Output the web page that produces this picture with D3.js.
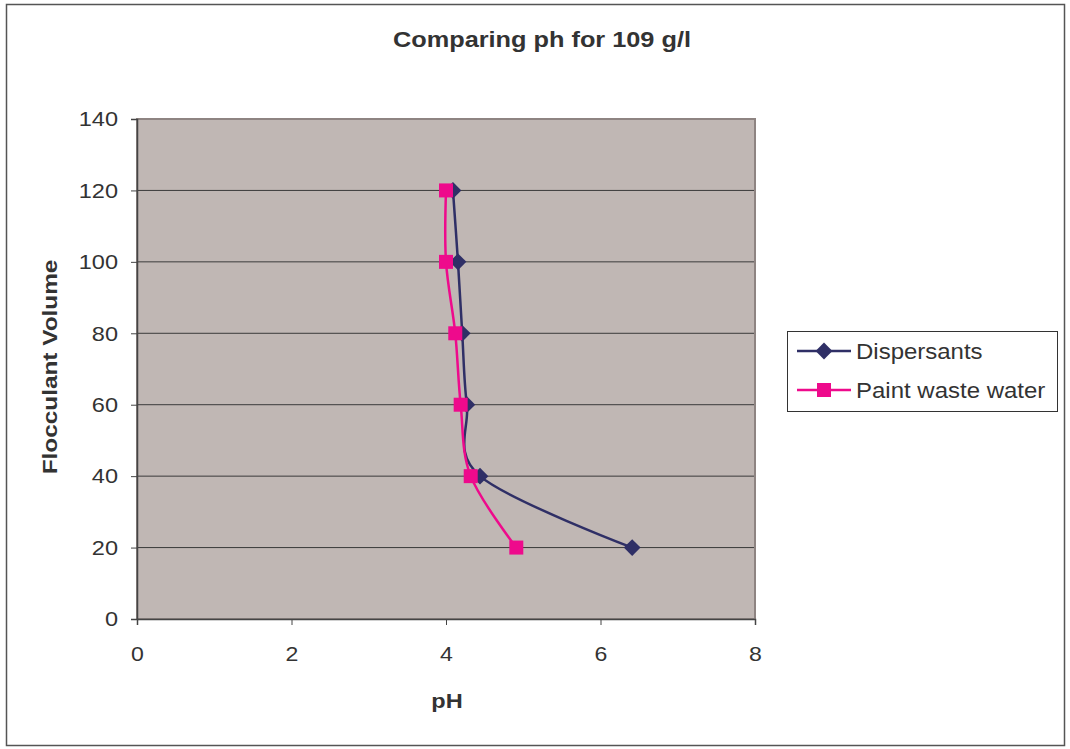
<!DOCTYPE html>
<html>
<head>
<meta charset="utf-8">
<script src="https://cdn.jsdelivr.net/npm/d3@7"></script>
<style>
  html, body { margin: 0; padding: 0; background: #fff; }
  svg { display: block; font-family: "Liberation Sans", Arial, sans-serif; }
</style>
</head>
<body>
<svg id="chart" width="1070" height="749"></svg>
<script>
// Flocculant volume vs. measured pH, 109 g/l
const volumes = [20, 40, 60, 80, 100, 120];
const dispersantsPH = [6.41, 4.44, 4.27, 4.21, 4.155, 4.09];
const paintWastePH = [4.91, 4.32, 4.19, 4.12, 4.0, 4.0];
const seriesNames = ["Dispersants", "Paint waste water"];
const xTicks = [0, 2, 4, 6, 8];
const yTicks = [0, 20, 40, 60, 80, 100, 120, 140];

const svg = d3.select("#chart");
const plot = { left: 137, right: 755, top: 119, bottom: 619 };

const x = d3.scaleLinear().domain([0, 8]).range([plot.left, plot.right]);
const y = d3.scaleLinear().domain([0, 140]).range([plot.bottom, plot.top]);

// widen glyphs a little along the baseline (the typeface runs wide)
function widen(sel, factor) {
  sel.each(function () {
    const w = this.getComputedTextLength();
    d3.select(this)
      .attr("textLength", w * factor)
      .attr("lengthAdjust", "spacingAndGlyphs");
  });
}

// outer chart frame
svg.append("rect")
  .attr("x", 6.5).attr("y", 4.5).attr("width", 1058).attr("height", 741)
  .attr("fill", "#fff").attr("stroke", "#555").attr("stroke-width", 1.5);

// plot area
svg.append("rect")
  .attr("x", plot.left).attr("y", plot.top)
  .attr("width", plot.right - plot.left).attr("height", plot.bottom - plot.top)
  .attr("fill", "#c0b7b4");

// horizontal gridlines
svg.append("g").selectAll("line")
  .data(yTicks.filter(d => d > 0 && d < 140))
  .join("line")
  .attr("x1", plot.left).attr("x2", plot.right)
  .attr("y1", d => y(d)).attr("y2", d => y(d))
  .attr("stroke", "#3a3a3a").attr("stroke-width", 1);

// plot border
svg.append("rect")
  .attr("x", plot.left).attr("y", plot.top)
  .attr("width", plot.right - plot.left).attr("height", plot.bottom - plot.top)
  .attr("fill", "none").attr("stroke", "#8e8482").attr("stroke-width", 2);

// axes
const xAxis = svg.append("g")
  .attr("transform", `translate(0,${plot.bottom})`)
  .call(d3.axisBottom(x).tickValues(xTicks).tickSize(6).tickPadding(21).tickFormat(d3.format("d")));
const yAxis = svg.append("g")
  .attr("transform", `translate(${plot.left},0)`)
  .call(d3.axisLeft(y).tickValues(yTicks).tickSize(6).tickPadding(13).tickFormat(d3.format("d")));

[xAxis, yAxis].forEach(g => {
  g.select(".domain").attr("stroke", "#444").attr("stroke-width", 1.5);
  g.selectAll(".tick line").attr("stroke", "#444");
  g.selectAll(".tick text")
    .attr("fill", "#333")
    .style("font-size", "21px")
    .style("font-family", "\"Liberation Sans\", Arial, sans-serif");
});
widen(xAxis.selectAll(".tick text"), 1.1);
widen(yAxis.selectAll(".tick text"), 1.12);

// title and axis titles
const title = svg.append("text")
  .attr("x", 542).attr("y", 47)
  .attr("text-anchor", "middle")
  .attr("fill", "#333")
  .style("font-size", "22px").style("font-weight", "bold")
  .text("Comparing ph for 109 g/l");
widen(title, 1.15);

const xTitle = svg.append("text")
  .attr("x", 447).attr("y", 708)
  .attr("text-anchor", "middle")
  .attr("fill", "#333")
  .style("font-size", "21px").style("font-weight", "bold")
  .text("pH");
widen(xTitle, 1.12);

const yTitle = svg.append("text")
  .attr("transform", "translate(57,367) rotate(-90)")
  .attr("text-anchor", "middle")
  .attr("fill", "#333")
  .style("font-size", "21px").style("font-weight", "bold")
  .text("Flocculant Volume");
widen(yTitle, 1.16);

// series
const colors = ["#2f2f66", "#ee0a8c"];
const series = [
  volumes.map((v, i) => ({ x: dispersantsPH[i], y: v })),
  volumes.map((v, i) => ({ x: paintWastePH[i], y: v }))
];

const line = d3.line()
  .x(d => x(d.x)).y(d => y(d.y))
  .curve(d3.curveCardinal.tension(0));

const diamond = d3.symbol().type(d3.symbolDiamond2).size(180);
const square = d3.symbol().type(d3.symbolSquare).size(196);
const shapes = [diamond, square];

series.forEach((pts, i) => {
  svg.append("path")
    .datum(pts)
    .attr("d", line)
    .attr("fill", "none")
    .attr("stroke", colors[i])
    .attr("stroke-width", 2.5);
  svg.append("g").selectAll("path")
    .data(pts)
    .join("path")
    .attr("transform", d => `translate(${x(d.x)},${y(d.y)})`)
    .attr("d", shapes[i]())
    .attr("fill", colors[i]);
});

// legend
const legend = svg.append("g");
legend.append("rect")
  .attr("x", 787.5).attr("y", 331.5).attr("width", 270).attr("height", 80)
  .attr("fill", "#fff").attr("stroke", "#333").attr("stroke-width", 1);

seriesNames.forEach((name, i) => {
  const ly = 351 + i * 39;
  legend.append("line")
    .attr("x1", 797).attr("x2", 851).attr("y1", ly).attr("y2", ly)
    .attr("stroke", colors[i]).attr("stroke-width", 2.5);
  legend.append("path")
    .attr("transform", `translate(824,${ly})`)
    .attr("d", shapes[i]())
    .attr("fill", colors[i]);
  const t = legend.append("text")
    .attr("x", 856).attr("y", ly + 8)
    .attr("fill", "#333")
    .style("font-size", "22px")
    .text(name);
  widen(t, 1.09);
});
</script>
</body>
</html>
